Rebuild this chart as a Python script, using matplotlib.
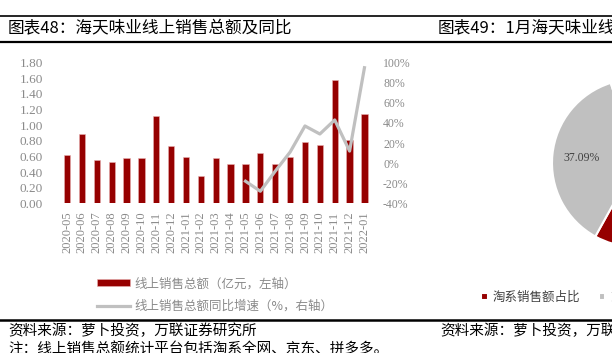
import numpy as np
import matplotlib
matplotlib.use("Agg")
import matplotlib.pyplot as plt
from matplotlib.lines import Line2D

plt.rcParams['font.family'] = ['Noto Sans CJK SC', 'DejaVu Sans']

months = ['2020-05', '2020-06', '2020-07', '2020-08', '2020-09', '2020-10', '2020-11',
          '2020-12', '2021-01', '2021-02', '2021-03', '2021-04', '2021-05', '2021-06',
          '2021-07', '2021-08', '2021-09', '2021-10', '2021-11', '2021-12', '2022-01']
sales = [0.62, 0.89, 0.55, 0.53, 0.575, 0.575, 1.115, 0.73, 0.59, 0.345, 0.58,
         0.50, 0.505, 0.64, 0.505, 0.59, 0.78, 0.74, 1.58, 0.81, 1.145]
yoy = [np.nan] * 12 + [-18, -28, -8, 11, 37, 29, 43, 12, 95]

left_ticks = [0.0, 0.2, 0.4, 0.6, 0.8, 1.0, 1.2, 1.4, 1.6, 1.8]
right_ticks = [-40, -20, 0, 20, 40, 60, 80, 100]

pie_labels = ['淘系销售额占比', '京东销售额占比', '拼多多销售额占比']
pie_share = [58.05, 37.09, 4.86]

RED = '#960000'
GREY = '#c0c0c0'
TXT = '#8a8a8a'
W, H = 612, 353
num_font = ['Liberation Serif', 'DejaVu Serif']

fig = plt.figure(figsize=(W / 100, H / 100), dpi=100)

# ---- left chart: bars + yoy line
ax = fig.add_axes([59.6 / W, 1 - 203.3 / H, 312.3 / W, 140.6 / H])
x = np.arange(len(months))
bars = ax.bar(x, sales, width=0.42, color=RED, edgecolor='#e8b0b0', linewidth=0.4,
              label='线上销售总额（亿元，左轴）')
ax.set_xlim(-0.5, len(months) - 0.5)
ax.set_ylim(0, 1.8)
ax.set_yticks(left_ticks)
ax.set_yticklabels(['%.2f' % v for v in left_ticks], family=num_font, fontsize=9.5, color=TXT)
ax.set_xticks(x)
ax.set_xticklabels(months, rotation=90, family=num_font, fontsize=9, color=TXT)
ax.tick_params(axis='y', length=0, pad=12)
ax.tick_params(axis='x', length=0, pad=6)
for s in ax.spines.values():
    s.set_visible(False)

ax2 = ax.twinx()
line, = ax2.plot(x, yoy, color=GREY, lw=2.3, label='线上销售总额同比增速（%，右轴）')
ax2.set_ylim(-40, 100)
ax2.set_yticks(right_ticks)
ax2.set_yticklabels(['%d%%' % v for v in right_ticks], family=num_font, fontsize=8.5, color=TXT)
ax2.tick_params(axis='y', length=0, pad=8)
for s in ax2.spines.values():
    s.set_visible(False)

fig.legend([bars, line], [bars.get_label(), line.get_label()],
           loc='upper left', bbox_to_anchor=(86 / W, 1 - 266 / H), frameon=False,
           handlelength=2.6, handleheight=0.5, labelspacing=0.75, handletextpad=0.4,
           fontsize=9, labelcolor=TXT)

# ---- right chart: partial pie (cut by the page edge)
axp = fig.add_axes([0, 0, 1, 1])
axp.set_zorder(-1)
wedges, _ = axp.pie(pie_share, colors=[RED, GREY, '#7f7f7f'], startangle=90,
                    counterclock=False, center=(636, H - 163), radius=84, frame=True,
                    wedgeprops=dict(edgecolor='white', linewidth=1.5))
axp.set_xlim(0, W)
axp.set_ylim(0, H)
axp.axis('off')
wg = wedges[1]
mid = np.deg2rad((wg.theta1 + wg.theta2) / 2)
axp.text(636 + 0.65 * 84 * np.cos(mid), H - 163 + 0.65 * 84 * np.sin(mid),
         '%.2f%%' % pie_share[1], family=num_font, fontsize=8.5, color='#404040',
         ha='center', va='center')
axp.legend(wedges, pie_labels, loc='center left', bbox_to_anchor=(470 / W, 1 - 297 / H),
           ncol=3, frameon=False, handlelength=0.5, handleheight=0.5, handletextpad=0.4,
           columnspacing=1.5, fontsize=9, labelcolor='#404040')

# ---- page furniture
for yy, lw in [(16, 1.2), (42, 1.6), (320, 1.8)]:
    fig.add_artist(Line2D([0, 1], [1 - yy / H, 1 - yy / H], color='black', lw=lw))

fig.text(8 / W, 1 - 29 / H, '图表48：海天味业线上销售总额及同比', fontsize=12, va='center')
fig.text(438 / W, 1 - 29 / H, '图表49：1月海天味业线上销售额平台占比', fontsize=12, va='center')
fig.text(8 / W, 1 - 331 / H, '资料来源：萝卜投资，万联证券研究所', fontsize=10.5, va='center')
fig.text(8 / W, 1 - 350 / H, '注：线上销售总额统计平台包括淘系全网、京东、拼多多。', fontsize=10.5, va='center')
fig.text(440 / W, 1 - 331 / H, '资料来源：萝卜投资，万联证券研究所', fontsize=10.5, va='center')

fig.savefig('out.png', dpi=100)
